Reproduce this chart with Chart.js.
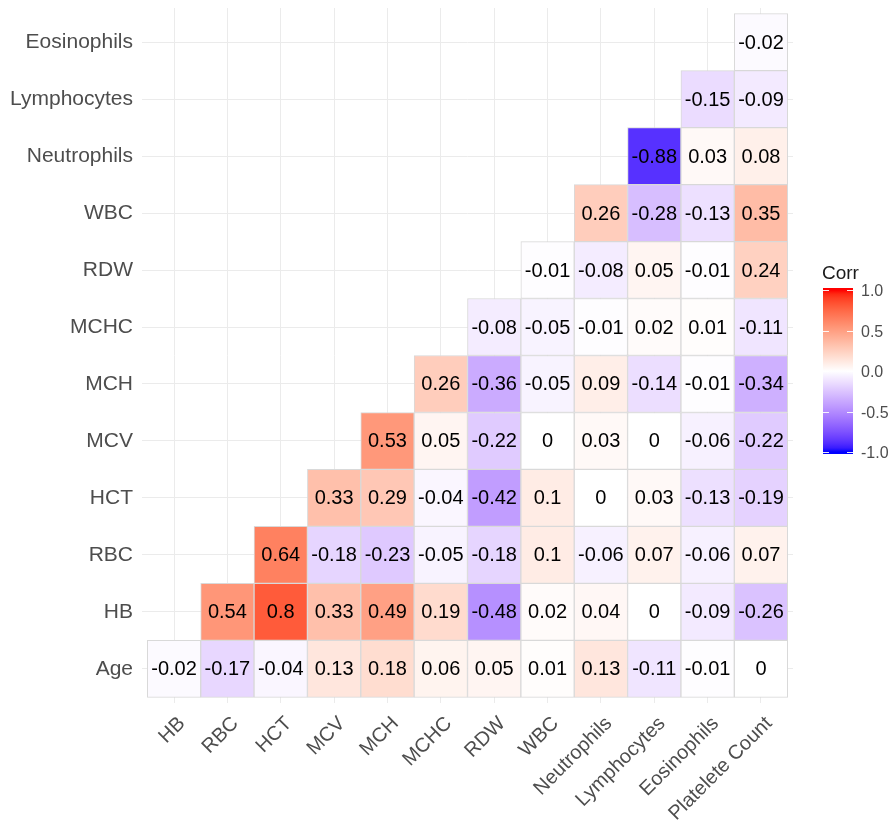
<!DOCTYPE html>
<html>
<head>
<meta charset="utf-8">
<script src="https://cdn.jsdelivr.net/npm/chart.js@4"></script>
<style>
  html, body { margin: 0; padding: 0; background: #fff; }
  #wrap { width: 891px; height: 832px; position: relative; }
</style>
</head>
<body>
<div id="wrap"><canvas id="corr"></canvas></div>
<script>
'use strict';

// --- data ---
const xCats = ['HB', 'RBC', 'HCT', 'MCV', 'MCH', 'MCHC', 'RDW', 'WBC', 'Neutrophils', 'Lymphocytes', 'Eosinophils', 'Platelete Count'];
const yCats = ['Age', 'HB', 'RBC', 'HCT', 'MCV', 'MCH', 'MCHC', 'RDW', 'WBC', 'Neutrophils', 'Lymphocytes', 'Eosinophils'];

const rowAge   = [-0.02, -0.17, -0.04, 0.13, 0.18, 0.06, 0.05, 0.01, 0.13, -0.11, -0.01, 0];
const rowHB    = [null, 0.54, 0.8, 0.33, 0.49, 0.19, -0.48, 0.02, 0.04, 0, -0.09, -0.26];
const rowRBC   = [null, null, 0.64, -0.18, -0.23, -0.05, -0.18, 0.1, -0.06, 0.07, -0.06, 0.07];
const rowHCT   = [null, null, null, 0.33, 0.29, -0.04, -0.42, 0.1, 0, 0.03, -0.13, -0.19];
const rowMCV   = [null, null, null, null, 0.53, 0.05, -0.22, 0, 0.03, 0, -0.06, -0.22];
const rowMCH   = [null, null, null, null, null, 0.26, -0.36, -0.05, 0.09, -0.14, -0.01, -0.34];
const rowMCHC  = [null, null, null, null, null, null, -0.08, -0.05, -0.01, 0.02, 0.01, -0.11];
const rowRDW   = [null, null, null, null, null, null, null, -0.01, -0.08, 0.05, -0.01, 0.24];
const rowWBC   = [null, null, null, null, null, null, null, null, 0.26, -0.28, -0.13, 0.35];
const rowNeut  = [null, null, null, null, null, null, null, null, null, -0.88, 0.03, 0.08];
const rowLymph = [null, null, null, null, null, null, null, null, null, null, -0.15, -0.09];
const rowEos   = [null, null, null, null, null, null, null, null, null, null, null, -0.02];

const rows = [rowAge, rowHB, rowRBC, rowHCT, rowMCV, rowMCH, rowMCHC, rowRDW, rowWBC, rowNeut, rowLymph, rowEos];
const legendBreaks = [1.0, 0.5, 0.0, -0.5, -1.0];

const FONT = "'Liberation Sans', Arial, sans-serif";

// --- colour scale (blue / white / red, interpolated in Lab like ggplot) ---
function toLab(hex) {
  const c = [1, 3, 5].map(i => parseInt(hex.substr(i, 2), 16) / 255)
    .map(v => v <= 0.04045 ? v / 12.92 : Math.pow((v + 0.055) / 1.055, 2.4));
  let x = (c[0] * 0.4124 + c[1] * 0.3576 + c[2] * 0.1805) / 0.95047;
  let y = (c[0] * 0.2126 + c[1] * 0.7152 + c[2] * 0.0722);
  let z = (c[0] * 0.0193 + c[1] * 0.1192 + c[2] * 0.9505) / 1.08883;
  const f = t => t > 0.008856 ? Math.cbrt(t) : 7.787 * t + 16 / 116;
  x = f(x); y = f(y); z = f(z);
  return [116 * y - 16, 500 * (x - y), 200 * (y - z)];
}
function fromLab([L, a, b]) {
  let y = (L + 16) / 116, x = a / 500 + y, z = y - b / 200;
  const fi = t => t * t * t > 0.008856 ? t * t * t : (t - 16 / 116) / 7.787;
  x = fi(x) * 0.95047; y = fi(y); z = fi(z) * 1.08883;
  let r = x * 3.2406 + y * -1.5372 + z * -0.4986;
  let g = x * -0.9689 + y * 1.8758 + z * 0.0415;
  let bl = x * 0.0557 + y * -0.2040 + z * 1.0570;
  const gam = v => {
    v = v <= 0.0031308 ? 12.92 * v : 1.055 * Math.pow(v, 1 / 2.4) - 0.055;
    return Math.round(Math.max(0, Math.min(1, v)) * 255);
  };
  return `rgb(${gam(r)},${gam(g)},${gam(bl)})`;
}
const LAB_LOW = toLab('#0000FF'), LAB_MID = toLab('#FFFFFF'), LAB_HIGH = toLab('#FF0000');
function corrColor(v) {
  const to = v < 0 ? LAB_LOW : LAB_HIGH;
  const t = Math.min(1, Math.abs(v));
  return fromLab(LAB_MID.map((m, i) => m + (to[i] - m) * t));
}

// --- one floating-bar dataset per row ---
const datasets = rows.map((vals, r) => {
  const pts = [];
  const colors = [];
  vals.forEach((v, i) => {
    if (v === null) return;
    pts.push({ x: i, y: [r - 0.5, r + 0.5] });
    colors.push(corrColor(v));
  });
  return {
    label: yCats[r],
    data: pts,
    backgroundColor: colors,
    borderColor: '#d9d9d9',
    borderWidth: 1,
    borderSkipped: false,
    grouped: false,
    barPercentage: 1,
    categoryPercentage: 1
  };
});

// values written in each cell
const CellText = {
  id: 'cellText',
  afterDatasetsDraw(chart) {
    const { ctx, scales: { x, y } } = chart;
    ctx.save();
    ctx.fillStyle = '#000';
    ctx.font = `20px ${FONT}`;
    ctx.textAlign = 'center';
    ctx.textBaseline = 'middle';
    rows.forEach((vals, r) => {
      vals.forEach((v, i) => {
        if (v === null) return;
        ctx.fillText(String(v), x.getPixelForValue(i), y.getPixelForValue(r) + 1);
      });
    });
    ctx.restore();
  }
};

// colour bar legend on the right
const ColorBar = {
  id: 'colorBar',
  afterDraw(chart) {
    const { ctx } = chart;
    const left = 823, w = 30, top = 290, bottom = 452;
    const yOf = v => top + (1 - v) / 2 * (bottom - top);
    ctx.save();
    const grad = ctx.createLinearGradient(0, top, 0, bottom);
    for (let k = 0; k <= 40; k++) {
      grad.addColorStop(k / 40, corrColor(1 - k / 20));
    }
    ctx.fillStyle = grad;
    ctx.fillRect(left, top - 2, w, bottom - top + 4);

    ctx.strokeStyle = 'rgba(255,255,255,0.9)';
    ctx.lineWidth = 1;
    legendBreaks.forEach(b => {
      const yy = Math.round(yOf(b)) + 0.5;
      ctx.beginPath();
      ctx.moveTo(left, yy); ctx.lineTo(left + 6, yy);
      ctx.moveTo(left + w - 6, yy); ctx.lineTo(left + w, yy);
      ctx.stroke();
    });

    ctx.fillStyle = '#1a1a1a';
    ctx.font = `19px ${FONT}`;
    ctx.textAlign = 'left';
    ctx.textBaseline = 'alphabetic';
    ctx.fillText('Corr', 822, 279);

    ctx.fillStyle = '#4d4d4d';
    ctx.font = `16px ${FONT}`;
    ctx.textBaseline = 'middle';
    legendBreaks.forEach(b => {
      ctx.fillText(b.toFixed(1), 861, yOf(b) + 2);
    });
    ctx.restore();
  }
};

const ctx = document.getElementById('corr').getContext('2d');
new Chart(ctx, {
  type: 'bar',
  data: { datasets },
  plugins: [CellText, ColorBar],
  options: {
    responsive: true,
    maintainAspectRatio: false,
    animation: false,
    events: [],
    layout: { padding: { top: 8, right: 98, left: 0, bottom: 0 } },
    plugins: {
      legend: { display: false },
      tooltip: { enabled: false }
    },
    scales: {
      x: {
        type: 'linear',
        offset: false,
        min: -0.6,
        max: 11.6,
        afterBuildTicks: (s) => { s.ticks = xCats.map((_, i) => ({ value: i })); },
        afterFit: (s) => { s.height = 129; s.paddingLeft = 0; s.paddingRight = 0; },
        grid: { offset: false, color: '#ebebeb', lineWidth: 1, drawTicks: false },
        border: { display: false },
        ticks: {
          minRotation: 45,
          maxRotation: 45,
          autoSkip: false,
          padding: 9,
          labelOffset: 8,
          color: '#4d4d4d',
          font: { family: FONT, size: 20 },
          callback: (v) => xCats[v]
        }
      },
      y: {
        type: 'linear',
        min: -0.6,
        max: 11.6,
        afterBuildTicks: (s) => { s.ticks = yCats.map((_, i) => ({ value: i })); },
        afterFit: (s) => { s.width = 142; s.paddingTop = 0; s.paddingBottom = 0; },
        grid: { color: '#ebebeb', lineWidth: 1, drawTicks: false },
        border: { display: false },
        ticks: {
          autoSkip: false,
          padding: 9,
          color: '#4d4d4d',
          font: { family: FONT, size: 21 },
          callback: (v) => yCats[v]
        }
      }
    }
  }
});
</script>
</body>
</html>
